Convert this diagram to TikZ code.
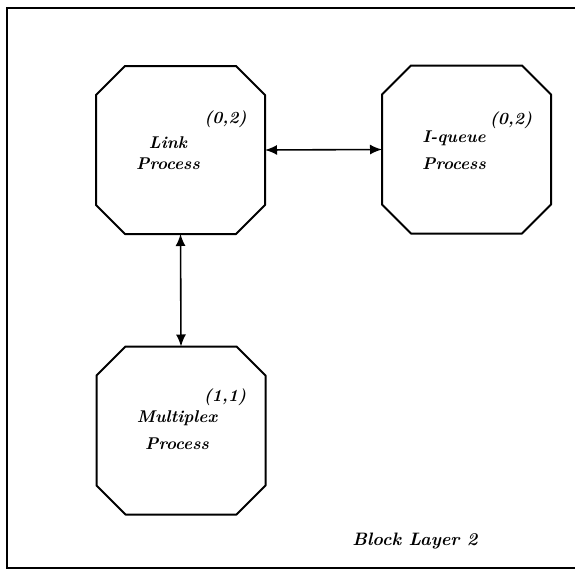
\documentclass[tikz,border=0pt]{standalone}
\usepackage{fontspec}
\usepackage{tikz}
\usetikzlibrary{arrows.meta}
\usetikzlibrary{positioning}

\begin{document}
\begin{tikzpicture}[x=1pt,y=-1pt,
        proc/.style={rectangle,minimum width=169pt,minimum height=168pt,inner sep=0pt,outer sep=0pt},
        edge/.style={line width=2pt,line join=round},
        lbl/.style={font=\fontsize{17}{20}\selectfont\bfseries\itshape,
            align=center,inner sep=0pt},
        link/.style={line width=1.6pt,{Latex[length=12pt,width=10pt]}-{Latex[length=12pt,width=10pt]}}]
        \useasboundingbox (0,0) rectangle (575,570);
        % frame round the block
        \draw[line width=1.6pt] (575,8) -- (7,8) -- (7,568) -- (575,568);

        \node[proc] (lnk) at (180.5,150) {};
        \node[proc] (iq) at (466.5,149.5) {};
        \node[proc] (mux) at (181,430.5) {};

        % cut the corners off each process box
        \foreach \n in {lnk,iq,mux}
            \draw[edge] ([xshift=29pt]\n.north west) -- ([xshift=-29pt]\n.north east)
                -- ([yshift=-29pt]\n.north east) -- ([yshift=29pt]\n.south east)
                -- ([xshift=-29pt]\n.south east) -- ([xshift=29pt]\n.south west)
                -- ([yshift=29pt]\n.south west) -- ([yshift=-29pt]\n.north west) -- cycle;

        \node[lbl] (lnkname) at (168,153) {Link\\[1pt]Process};
        \node[lbl] (lnkid) at (225.5,119) {(0,2)};
        \node[lbl] (iqname) at (454,150) {I-queue\\[7pt]Process};
        \node[lbl] (iqid) at (511,120) {(0,2)};
        \node[lbl] (muxname) at (177,430) {Multiplex\\[7pt]Process};
        \node[lbl] (muxid) at (225,397) {(1,1)};
        \node[lbl,font=\fontsize{18}{21}\selectfont\bfseries\itshape] (blk) at (415,541) {Block Layer 2};

        \draw[link] (lnk.east) -- (iq.west);
        \draw[link] (lnk.south) -- (mux.north);
    \end{tikzpicture}
\end{document}
